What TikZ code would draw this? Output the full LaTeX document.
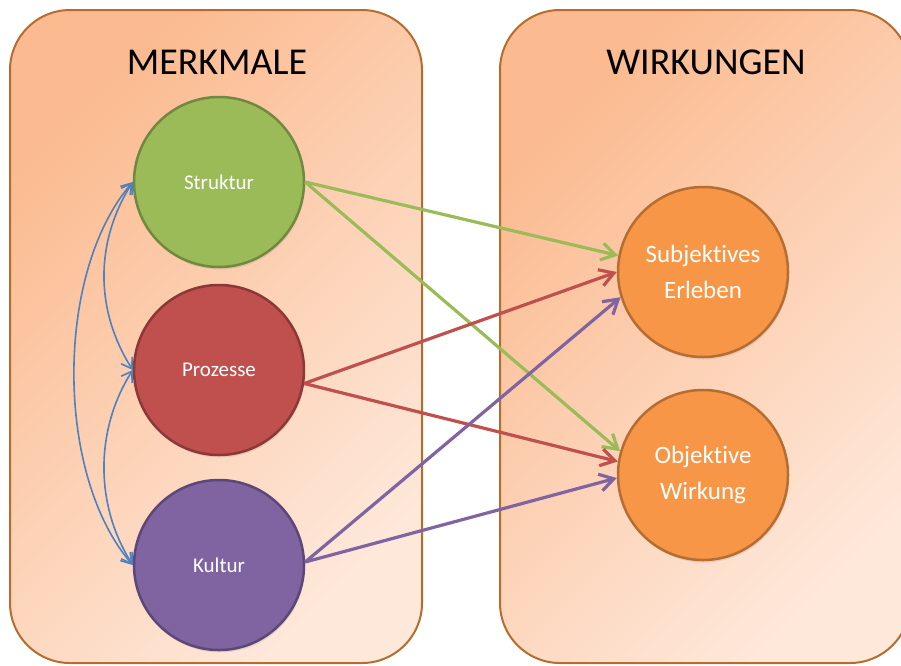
\documentclass[tikz,border=0pt]{standalone}
\usepackage{fontspec}
\setmainfont{Carlito}[Ligatures=NoCommon]
\usetikzlibrary{arrows.meta,shadows}

\definecolor{panelDark}{RGB}{251,186,143}
\definecolor{panelLight}{RGB}{254,232,218}
\definecolor{panelLine}{RGB}{182,108,46}
\definecolor{olGreen}{RGB}{155,187,89}
\definecolor{olGreenD}{RGB}{113,137,63}
\definecolor{olRed}{RGB}{192,80,77}
\definecolor{olRedD}{RGB}{140,56,54}
\definecolor{olPurple}{RGB}{128,100,162}
\definecolor{olPurpleD}{RGB}{92,71,118}
\definecolor{olOrange}{RGB}{247,150,70}
\definecolor{olOrangeD}{RGB}{182,109,49}
\definecolor{olBlue}{RGB}{79,129,189}

\tikzset{
  panel/.style={draw=panelLine, line width=2pt, rounded corners=60pt,
    top color=panelDark, bottom color=panelLight, shading angle=45},
  paneltitle/.style={font=\fontsize{38}{40}\selectfont, text=black},
  feature/.style={circle, minimum size=170pt, inner sep=0pt, line width=2.5pt,
    text=white, font=\fontsize{21}{25}\selectfont,
    drop shadow={opacity=0.18, shadow xshift=1pt, shadow yshift=-2.5pt}},
  effect/.style={feature, fill=olOrange, draw=olOrangeD,
    font=\fontsize{25}{36}\selectfont, align=center},
  link/.style={line width=3.2pt, -{Straight Barb[length=14pt,width=17pt]}},
  mutual/.style={draw=olBlue, line width=1.6pt,
    {Straight Barb[length=10pt,width=13pt]}-{Straight Barb[length=10pt,width=13pt]}}
}

\begin{document}
\begin{tikzpicture}[x=1pt, y=-1pt]
  \useasboundingbox (0,0) rectangle (901,665);

  % the two panels
  \path[panel] (10,10) rectangle (422,663);
  \path[panel] (500,10) rectangle (910,663);
  \node[paneltitle] (tl) at (217,62) {MERKMALE};
  \node[paneltitle] (tr) at (706,62) {WIRKUNGEN};

  % features
  \node[feature, fill=olGreen, draw=olGreenD] (str) at (219,182) {Struktur};
  \node[feature, fill=olRed, draw=olRedD] (pro) at (219,370) {Prozesse};
  \node[feature, fill=olPurple, draw=olPurpleD] (kul) at (219,565) {Kultur};

  % effects
  \node[effect] (subj) at (703,272) {Subjektives\\Erleben};
  \node[effect] (obj) at (703,475) {Objektive\\Wirkung};

  % mutual influences between the features
  \draw[mutual] (str.west) .. controls +(-38,60) and +(-38,-60) .. (pro.west);
  \draw[mutual] (pro.west) .. controls +(-38,60) and +(-38,-60) .. (kul.west);
  \draw[mutual] (str.west) .. controls +(-78,90) and +(-78,-90) .. (kul.west);

  % influences of the features on the effects
  \draw[link, olGreen] (str.0) -- (subj.169);
  \draw[link, olGreen] (str.0) -- (obj.164);
  \draw[link, olRed] (pro.-9) -- (subj.180);
  \draw[link, olRed] (pro.-9) -- (obj.171);
  \draw[link, olPurple] (kul.2) -- (subj.197);
  \draw[link, olPurple] (kul.2) -- (obj.182);
\end{tikzpicture}
\end{document}
